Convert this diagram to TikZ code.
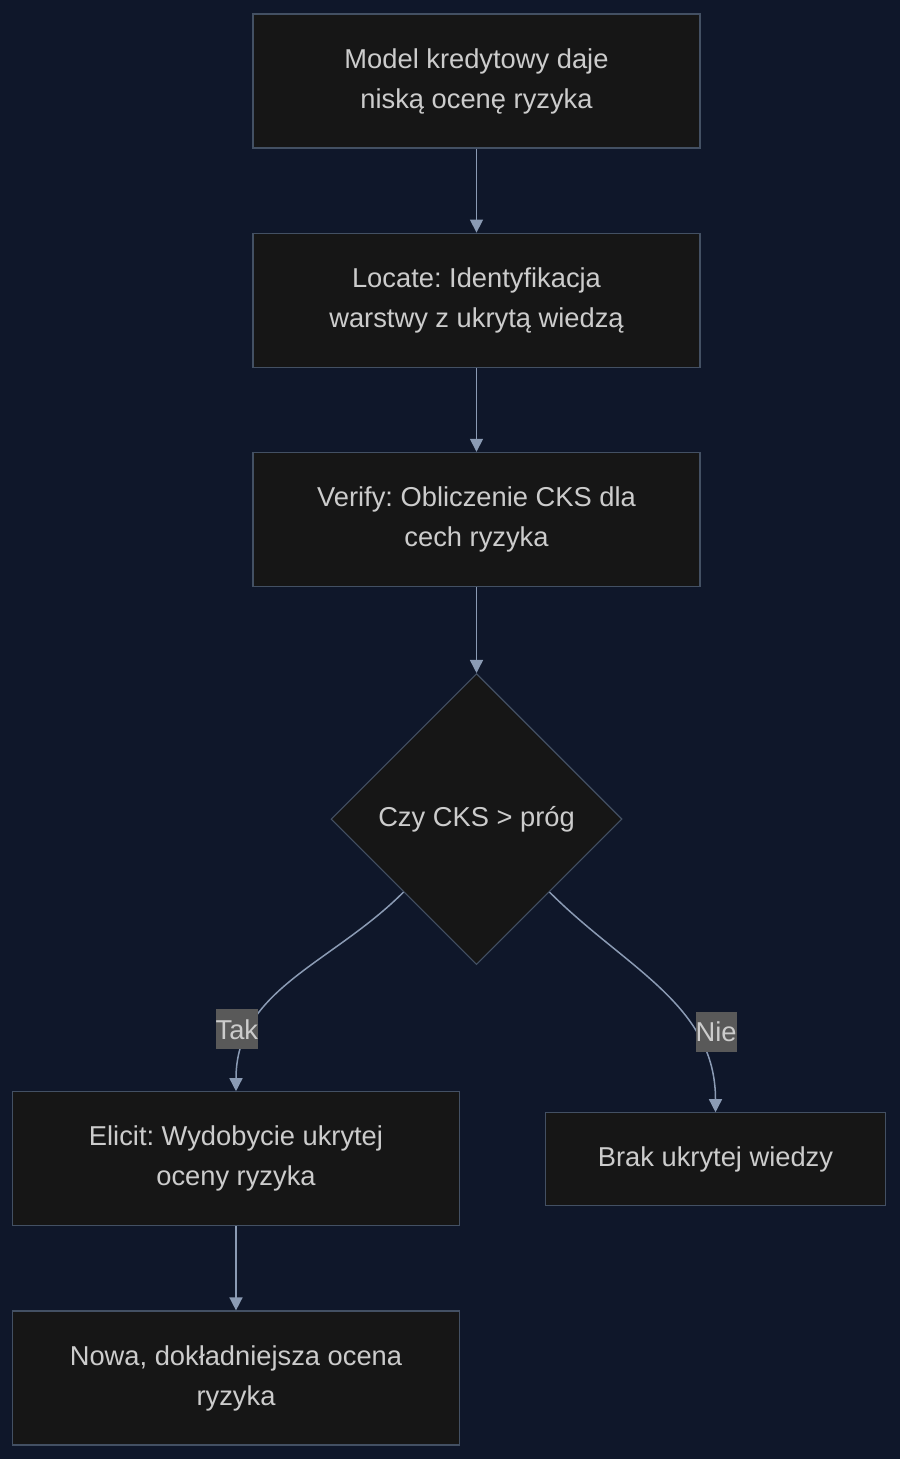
\documentclass[tikz,border=0pt]{standalone}
\usepackage{fontspec}
\setmainfont{Liberation Sans}
\frenchspacing
\usepackage{tikz}
\usetikzlibrary{arrows.meta,positioning,shapes.geometric}
\definecolor{nightnavy}{HTML}{0F172A}
\definecolor{boxfill}{HTML}{161616}
\definecolor{boxedge}{HTML}{435063}
\definecolor{flowgray}{HTML}{8B9BB4}
\definecolor{textgray}{HTML}{CCCCCC}
\definecolor{labelgray}{HTML}{595959}
\tikzset{
  procbox/.style={draw=boxedge,fill=boxfill,text=textgray,align=center,minimum width=223.5pt,minimum height=67pt,line width=.6pt,font=\fontsize{13.65}{20}\selectfont},
  choice/.style={diamond,aspect=1,draw=boxedge,fill=boxfill,text=textgray,align=center,minimum size=145.5pt,inner sep=0pt,line width=.6pt,font=\fontsize{13.65}{20}\selectfont},
  edgelabel/.style={fill=labelgray,text=textgray,inner sep=0pt,minimum height=20pt,font=\fontsize{13.65}{20}\selectfont},
  flow/.style={-{Triangle[length=6.5pt,width=6.5pt]},line width=.75pt,draw=flowgray},
}

\begin{document}
\begin{tikzpicture}[node distance=42pt]
    \fill[nightnavy] (0,0) rectangle (450pt,-729.5pt);
    \useasboundingbox (0,0) rectangle (450pt,-729.5pt);
    \node[procbox] (model) at (238.25pt,-40.5pt) {Model kredytowy daje\\niską ocenę ryzyka};
    \node[procbox,below=of model] (locate) {Locate: Identyfikacja\\warstwy z ukrytą wiedzą};
    \node[procbox,below=of locate] (verify) {Verify: Obliczenie CKS dla\\cech ryzyka};
    \node[choice,below=43pt of verify] (cks) {Czy CKS > próg};
    \node[procbox,below=63pt of cks.south,xshift=-120.25pt] (elicit) {Elicit: Wydobycie ukrytej\\oceny ryzyka};
    \node[procbox,minimum width=170pt,minimum height=46.5pt,below=73.5pt of cks.south,xshift=119.5pt] (brak) {Brak ukrytej wiedzy};
    \node[procbox,below=of elicit] (nowa) {Nowa, dokładniejsza ocena\\ryzyka};
    \draw[flow] (model)--(locate);\draw[flow] (locate)--(verify);\draw[flow] (verify)--(cks);
    \draw[flow] (cks.south west) to[out=-135,in=90] node[edgelabel,pos=.76,xshift=-7pt] {Tak} (elicit.north);
    \draw[flow] (cks.south east) to[out=-45,in=90] node[edgelabel,pos=.7,xshift=11pt] {Nie} (brak.north);
    \draw[flow] (elicit)--(nowa);
  \end{tikzpicture}
\end{document}
